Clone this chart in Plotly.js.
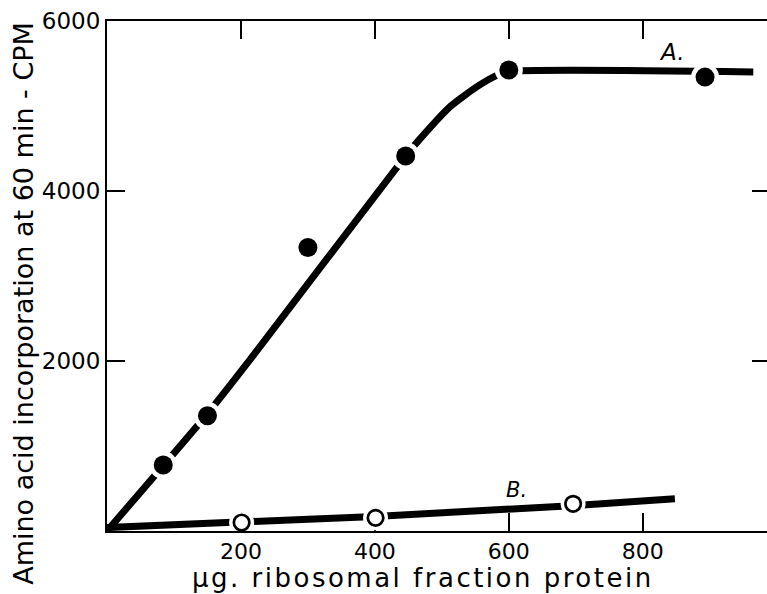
<!DOCTYPE html>
<html>
<head>
<meta charset="utf-8">
<script src="https://cdn.plot.ly/plotly-3.0.1.min.js"></script>
<style>
html,body{margin:0;padding:0;overflow:hidden;background:#fff;}
#chart{width:772px;height:594px;}
</style>
</head>
<body>
<div id="chart"></div>
<script>
// Curve A (filled circles)
const pointsAx = [84, 150, 300, 446, 600, 893];
const pointsAy = [776, 1355, 3335, 4412, 5424, 5340];
const lineAx = [0, 150, 213, 446, 467, 512, 552, 582, 600, 965];
const lineAy = [0, 1380, 2010, 4412, 4610, 4990, 5225, 5360, 5405, 5400];

// Curve B (open circles)
const pointsBx = [201, 401, 696];
const pointsBy = [100, 155, 320];
const lineBx = [0, 184, 400, 700, 848];
const lineBy = [40, 105, 172, 300, 380];

const xTicks = [200, 400, 600, 800];
const xTickText = ["200", "400", "600", "800"];
const yTicks = [2000, 4000, 6000];
const yTickText = ["2000", "4000", "6000"];

const labelA = {x: 843, y: 5635, text: "A."};
const labelB = {x: 612, y: 482, text: "B."};

const FONT = "DejaVu Sans, sans-serif";

const traces = [
  {x: lineAx, y: lineAy, mode: "lines", line: {color: "#000", width: 7, shape: "spline", smoothing: 0.6}, hoverinfo: "skip"},
  {x: lineBx, y: lineBy, mode: "lines", line: {color: "#000", width: 7}, hoverinfo: "skip"},
  {x: pointsAx, y: pointsAy, mode: "markers", marker: {color: "#fff", size: 28, line: {width: 0}}, hoverinfo: "skip"},
  {x: pointsBx, y: pointsBy, mode: "markers", marker: {color: "#fff", size: 25, line: {width: 0}}, hoverinfo: "skip"},
  {x: pointsAx, y: pointsAy, mode: "markers", marker: {color: "#000", size: 19, line: {width: 0}}},
  {x: pointsBx, y: pointsBy, mode: "markers", marker: {color: "#fff", size: 15.5, line: {color: "#000", width: 2.7}}}
];

const layout = {
  width: 772, height: 594,
  margin: {l: 107, r: 2, t: 21, b: 63},
  paper_bgcolor: "#fff", plot_bgcolor: "#fff",
  showlegend: false,
  font: {family: FONT, color: "#000"},
  xaxis: {
    range: [0, 990], showgrid: false, zeroline: false, layer: "below traces",
    showline: true, linecolor: "#000", linewidth: 2, mirror: "ticks",
    ticks: "inside", ticklen: 18, tickwidth: 2, tickcolor: "#000",
    tickvals: xTicks, ticktext: xTickText,
    tickfont: {size: 22, family: FONT, color: "#000"}
  },
  yaxis: {
    range: [0, 6000], showgrid: false, zeroline: false, layer: "below traces",
    showline: true, linecolor: "#000", linewidth: 2, mirror: "ticks",
    ticks: "inside", ticklen: 18, tickwidth: 2, tickcolor: "#000",
    tickvals: yTicks, ticktext: yTickText,
    tickfont: {size: 23, family: FONT, color: "#000"}
  },
  annotations: [
    {xref: "x", yref: "y", x: labelA.x, y: labelA.y, text: "<i>" + labelA.text + "</i>", showarrow: false, font: {size: 23, family: FONT, color: "#000"}},
    {xref: "x", yref: "y", x: labelB.x, y: labelB.y, text: "<i>" + labelB.text + "</i>", showarrow: false, font: {size: 21, family: FONT, color: "#000"}},
    {xref: "paper", yref: "paper", x: -0.127, y: 0.447, xanchor: "center", yanchor: "middle", textangle: -90,
     text: "Amino acid incorporation at 60 min - CPM", showarrow: false, font: {size: 27, family: FONT, color: "#000"}},
    {xref: "paper", yref: "paper", x: 0.477, y: -0.092, xanchor: "center", yanchor: "middle",
     text: "<span style=\"letter-spacing:2.5px\">μg. ribosomal fraction protein</span>", showarrow: false, font: {size: 26, family: FONT, color: "#000"}}
  ]
};

Plotly.newPlot("chart", traces, layout, {displayModeBar: false, staticPlot: true});
</script>
</body>
</html>
